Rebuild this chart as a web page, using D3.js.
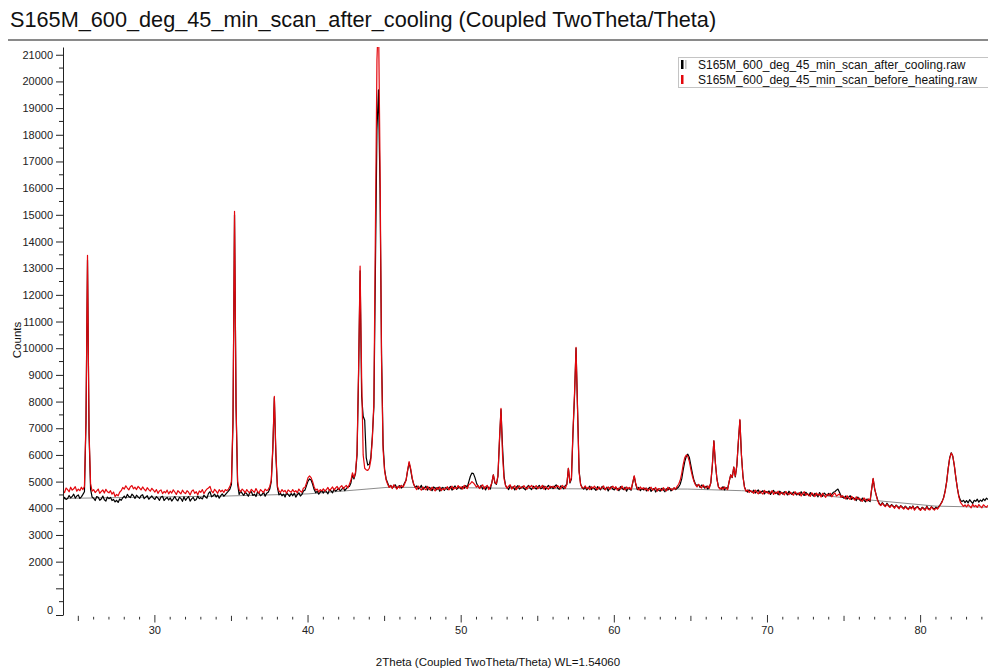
<!DOCTYPE html>
<html><head><meta charset="utf-8">
<script src="https://cdn.jsdelivr.net/npm/d3@7"></script>
<style>
html,body{margin:0;padding:0;background:#fff;}
svg{display:block;font-family:"Liberation Sans",Arial,Helvetica,sans-serif;}
</style></head><body>
<svg id="chart" width="988" height="671"></svg>
<script>
// Scan grid (start angle and step, degrees 2θ)
const scanStart = 24.0;
const scanStep = 0.1;

const chartTitle = "S165M_600_deg_45_min_scan_after_cooling (Coupled TwoTheta/Theta)";
const seriesNames = ["S165M_600_deg_45_min_scan_after_cooling.raw", "S165M_600_deg_45_min_scan_before_heating.raw"];
const xTitle = "2Theta (Coupled TwoTheta/Theta) WL=1.54060";
const yTitle = "Counts";

// Counts, one row per degree (24.0 … 84.4)
const afterCooling = [
 4280,4410,4330,4370,4480,4390,4440,4530,4380,4460, // 24
 4500,4370,4430,4520,4620,7200,13300,6800,4720,4420, // 25
 4380,4290,4440,4410,4300,4350,4460,4320,4270,4420, // 26
 4360,4410,4290,4330,4240,4300,4220,4350,4300,4390, // 27
 4460,4380,4520,4440,4400,4530,4470,4370,4490,4430, // 28
 4370,4480,4510,4360,4420,4470,4340,4400,4460,4380, // 29
 4330,4440,4380,4300,4420,4450,4290,4360,4410,4310, // 30
 4390,4270,4350,4440,4330,4280,4410,4370,4260,4430, // 31
 4300,4380,4440,4270,4350,4410,4290,4330,4460,4360, // 32
 4400,4350,4490,4420,4380,4560,4620,4430,4470,4530, // 33
 4420,4500,4380,4470,4540,4450,4510,4580,4640,4720, // 34
 4900,7200,15000,7800,4920,4520,4640,4560,4480,4600, // 35
 4540,4450,4590,4620,4480,4530,4440,4610,4560,4470, // 36
 4520,4600,4450,4560,4600,4720,5000,6200,8150,6000, // 37
 4780,4500,4560,4470,4530,4420,4580,4510,4450,4550, // 38
 4470,4560,4420,4510,4580,4460,4520,4650,4680,4850, // 39
 5020,5100,5060,4900,4700,4580,4640,4530,4610,4660, // 40
 4570,4680,4620,4540,4700,4650,4580,4720,4640,4690, // 41
 4750,4650,4710,4780,4660,4740,4800,4820,4950,5250, // 42
 5100,5300,6000,9000,12900,8200,7450,7300,5900,5620, // 43
 5650,5900,6700,7800,13000,18200,19680,16000,9800,6400, // 44
 5450,5100,4950,4800,4860,4760,4830,4880,4740,4810, // 45
 4850,4760,4820,4950,5050,5400,5700,5450,5100,4900, // 46
 4790,4840,4720,4770,4860,4700,4760,4830,4680,4790, // 47
 4730,4660,4800,4750,4690,4790,4640,4720,4780,4670, // 48
 4780,4700,4740,4820,4680,4770,4840,4710,4760,4800, // 49
 4720,4810,4750,4850,4800,5000,5200,5320,5300,5150, // 50
 4950,4820,4760,4860,4720,4800,4690,4830,4770,4720, // 51
 4950,5250,4950,4900,5200,6500,7700,6310,5200,4850, // 52
 4780,4700,4850,4760,4810,4690,4790,4850,4720,4770, // 53
 4820,4740,4690,4800,4860,4750,4700,4830,4780,4720, // 54
 4800,4860,4730,4770,4840,4700,4790,4860,4750,4810, // 55
 4740,4820,4880,4760,4710,4840,4790,4730,4850,4900, // 56
 5500,4950,5100,6800,8200,10000,7700,5400,4900,4780, // 57
 4720,4800,4690,4760,4830,4700,4780,4740,4670,4810, // 58
 4760,4690,4820,4740,4700,4790,4650,4760,4810,4720, // 59
 4690,4780,4730,4660,4810,4750,4700,4790,4640,4760, // 60
 4720,4680,4950,5200,4900,4700,4780,4660,4740,4690, // 61
 4760,4650,4720,4780,4630,4700,4740,4610,4710,4680, // 62
 4640,4750,4690,4620,4730,4680,4770,4650,4710,4760, // 63
 4700,4750,4800,4900,5100,5450,5750,5950,6030,5900, // 64
 5600,5300,5050,4900,4850,4890,4780,4870,4820,4760, // 65
 4830,4720,4790,4950,5600,6530,5690,5100,4800,4740, // 66
 4720,4810,4690,4770,4740,5000,5250,5150,5540,5180, // 67
 5600,6500,7300,6000,5200,4800,4660,4610,4690,4640, // 68
 4600,4680,4570,4640,4690,4560,4620,4660,4540,4630, // 69
 4580,4650,4520,4610,4670,4550,4600,4510,4640,4580, // 70
 4530,4620,4590,4500,4640,4560,4520,4610,4570,4500, // 71
 4570,4490,4620,4530,4480,4600,4540,4470,4590,4520, // 72
 4460,4560,4510,4430,4590,4500,4450,4570,4520,4480, // 73
 4560,4470,4530,4600,4620,4680,4720,4600,4470,4420, // 74
 4380,4460,4340,4420,4470,4330,4400,4360,4290,4420, // 75
 4330,4270,4380,4300,4240,4350,4290,4250,4700,5100, // 76
 4720,4500,4300,4180,4120,4210,4140,4080,4190,4110, // 77
 4060,4140,4090,4030,4120,4070,4010,4100,4050,3990, // 78
 4080,4020,3970,4060,4000,4090,3960,4030,4070,3990, // 79
 3950,4040,4000,3940,4080,3990,3960,4060,4010,3970, // 80
 4040,3990,4070,4150,4250,4400,4650,5000,5500,5900, // 81
 6080,5950,5600,5150,4750,4450,4300,4250,4300,4210, // 82
 4290,4200,4320,4250,4180,4300,4260,4340,4230,4310, // 83
 4260,4350,4290,4380,4330                           // 84
];

const beforeHeating = [
 4650,4590,4760,4700,4620,4790,4680,4730,4810,4640, // 24
 4720,4660,4790,4700,4820,7300,13480,6900,4920,4640, // 25
 4700,4590,4650,4720,4560,4630,4690,4570,4710,4620, // 26
 4580,4660,4530,4610,4440,4520,4470,4600,4660,4780, // 27
 4720,4840,4760,4690,4810,4850,4730,4790,4700,4820, // 28
 4760,4690,4800,4720,4650,4770,4700,4640,4750,4680, // 29
 4610,4700,4560,4650,4690,4550,4630,4580,4680,4540, // 30
 4640,4570,4690,4610,4520,4660,4600,4540,4680,4590, // 31
 4550,4660,4600,4500,4640,4690,4560,4620,4510,4650, // 32
 4600,4700,4550,4650,4720,4760,4820,4640,4580,4710, // 33
 4640,4560,4700,4620,4680,4590,4700,4660,4720,4820, // 34
 5000,7400,15130,7900,5020,4700,4620,4720,4660,4580, // 35
 4700,4620,4580,4710,4650,4600,4740,4630,4570,4700, // 36
 4640,4590,4720,4660,4700,4820,5050,6300,8200,6100, // 37
 4830,4650,4590,4700,4620,4670,4560,4690,4640,4600, // 38
 4700,4610,4660,4580,4720,4640,4600,4760,4780,4950, // 39
 5150,5210,5150,5000,4800,4680,4720,4610,4700,4650, // 40
 4730,4640,4700,4780,4660,4730,4800,4690,4760,4820, // 41
 4700,4790,4850,4730,4800,4860,4760,4900,5050,5330, // 42
 5150,5350,6100,9200,13080,8900,6000,5500,5440,5420, // 43
 5500,5800,6600,8000,14500,20800,22500,17000,9500,6200, // 44
 5400,5060,4900,4780,4850,4740,4880,4800,4720,4830, // 45
 4760,4860,4790,4900,5050,5420,5750,5500,5150,4900, // 46
 4780,4700,4830,4750,4680,4800,4740,4690,4820,4720, // 47
 4680,4790,4720,4650,4770,4710,4800,4660,4740,4700, // 48
 4740,4810,4690,4760,4830,4710,4780,4740,4850,4760, // 49
 4800,4720,4860,4780,4740,4890,4920,5000,4950,4880, // 50
 4790,4860,4740,4820,4880,4730,4810,4860,4700,4820, // 51
 4950,5250,4980,4920,5220,6600,7750,6000,5100,4850, // 52
 4740,4830,4880,4720,4790,4850,4700,4780,4840,4760, // 53
 4780,4850,4760,4720,4830,4790,4860,4740,4800,4850, // 54
 4730,4800,4770,4860,4720,4820,4760,4710,4830,4780, // 55
 4830,4760,4810,4850,4780,4730,4860,4800,4750,4900, // 56
 5500,4980,5150,6900,8300,10030,7650,5350,4880,4760, // 57
 4760,4840,4730,4790,4700,4810,4750,4830,4760,4700, // 58
 4800,4730,4770,4840,4690,4760,4800,4710,4780,4830, // 59
 4740,4810,4680,4760,4720,4830,4740,4690,4800,4730, // 60
 4780,4700,4960,5220,4920,4750,4690,4800,4720,4770, // 61
 4690,4760,4650,4730,4790,4680,4720,4780,4640,4740, // 62
 4720,4660,4770,4700,4650,4790,4710,4740,4680,4770, // 63
 4720,4820,4900,5050,5300,5650,5900,6000,5950,5750, // 64
 5450,5200,5000,4880,4800,4900,4830,4760,4880,4800, // 65
 4760,4840,4750,4960,5620,6530,5700,5080,4790,4720, // 66
 4780,4710,4800,4740,4700,5020,5250,5160,5540,5200, // 67
 5620,6520,7330,6000,5180,4780,4640,4690,4590,4660, // 68
 4620,4560,4680,4600,4540,4650,4590,4530,4670,4580, // 69
 4620,4540,4590,4660,4520,4610,4560,4640,4500,4600, // 70
 4570,4500,4630,4560,4510,4600,4540,4490,4620,4550, // 71
 4510,4590,4460,4560,4620,4480,4550,4500,4450,4580, // 72
 4520,4440,4570,4490,4530,4420,4560,4480,4410,4530, // 73
 4480,4560,4430,4520,4570,4460,4500,4540,4410,4470, // 74
 4420,4350,4470,4380,4330,4450,4370,4310,4430,4340, // 75
 4380,4300,4260,4390,4320,4270,4350,4300,4720,5120, // 76
 4730,4480,4280,4150,4100,4190,4110,4060,4160,4080, // 77
 4030,4120,4060,4000,4110,4040,3980,4090,4020,3970, // 78
 4060,3990,3950,4040,3980,4070,3930,4010,4050,3960, // 79
 3920,4020,3970,3930,4060,3960,3940,4050,3980,3930, // 80
 4010,3970,4050,4140,4240,4380,4620,4980,5480,5880, // 81
 6070,5960,5620,5150,4760,4420,4220,4150,4070,4130, // 82
 4050,4140,4080,4020,4150,4060,4110,4030,4140,4070, // 83
 4020,4130,4080,4040,4110                           // 84
];

// Fitted background (node points)
const backgroundTheta  = [24, 34.7, 40, 43, 45.3, 50, 57, 64.8, 68.3, 72, 76.7, 81, 84.4];
const backgroundCounts = [4370, 4460, 4540, 4680, 4790, 4770, 4730, 4720, 4660, 4560, 4310, 4080, 4040];

// Axis ticks
const yMajorTicks = [0,1000,2000,3000,4000,5000,6000,7000,8000,9000,10000,11000,12000,13000,14000,15000,16000,17000,18000,19000,20000,21000];
const xLabelTicks = [30, 40, 50, 60, 70, 80];

const svg = d3.select("#chart");
const W = 988, H = 671;
const plot = {left: 63, right: 988, top: 47, bottom: 615};

const x = d3.scaleLinear().domain([24, 84.4]).range([plot.left, plot.right]);
const y = d3.scaleLinear().domain([0, 21290]).range([plot.bottom, plot.top]);

// Title and rule
svg.append("text")
  .attr("x", 10).attr("y", 27)
  .attr("font-size", 21.7).attr("fill", "#111")
  .text(chartTitle);
svg.append("line")
  .attr("x1", 8).attr("x2", W).attr("y1", 40).attr("y2", 40)
  .attr("stroke", "#8a8a8a").attr("stroke-width", 2);

// Clip region for the traces
svg.append("defs").append("clipPath").attr("id", "plotClip")
  .append("rect")
  .attr("x", plot.left).attr("y", plot.top)
  .attr("width", plot.right - plot.left).attr("height", plot.bottom - plot.top);

const toPoints = arr => arr.map((c, i) => [scanStart + i * scanStep, c]);
const line = d3.line().x(d => x(d[0])).y(d => y(d[1]));

const traces = svg.append("g").attr("clip-path", "url(#plotClip)");

traces.append("path")
  .datum(backgroundTheta.map((t, i) => [t, backgroundCounts[i]]))
  .attr("d", line)
  .attr("fill", "none").attr("stroke", "#6e6e6e").attr("stroke-width", 0.8);

traces.append("path")
  .datum(toPoints(afterCooling))
  .attr("d", line)
  .attr("fill", "none").attr("stroke", "#000").attr("stroke-width", 1.2)
  .attr("stroke-linejoin", "round");

traces.append("path")
  .datum(toPoints(beforeHeating))
  .attr("d", line)
  .attr("fill", "none").attr("stroke", "#e3070d").attr("stroke-width", 1.2)
  .attr("stroke-linejoin", "round");

// Y axis
const yAxisG = svg.append("g").attr("transform", `translate(${plot.left},0)`);
yAxisG.call(d3.axisLeft(y).tickValues(yMajorTicks).tickSize(7).tickSizeOuter(0)
  .tickFormat(d => d === 1000 ? "" : d));
yAxisG.call(g => g.select(".domain").attr("stroke", "#222"));
yAxisG.selectAll(".tick line").attr("stroke", "#222");
yAxisG.selectAll(".tick text")
  .attr("font-size", 11).attr("fill", "#222")
  .attr("font-family", "Liberation Sans, Arial, sans-serif")
  .attr("dy", d => d === 0 ? "-0.15em" : "0.32em");
const yMinor = d3.range(500, 21001, 1000);
yAxisG.selectAll(".minor").data(yMinor).join("line")
  .attr("class", "minor")
  .attr("x1", -4).attr("x2", 0)
  .attr("y1", d => y(d)).attr("y2", d => y(d))
  .attr("stroke", "#222");

// X axis: tick marks only (no axis line)
const xAxisG = svg.append("g");
const xTicks = d3.range(25, 85, 1);
xAxisG.selectAll("line").data(xTicks).join("line")
  .attr("x1", d => x(d)).attr("x2", d => x(d))
  .attr("y1", d => d % 10 === 0 ? plot.bottom : d % 5 === 0 ? plot.bottom + 0.8 : plot.bottom + 1.8)
  .attr("y2", d => d % 10 === 0 ? plot.bottom + 7.5 : d % 5 === 0 ? plot.bottom + 6 : plot.bottom + 4.5)
  .attr("stroke", "#333").attr("stroke-width", 1);
xAxisG.selectAll("text").data(xLabelTicks).join("text")
  .attr("x", d => x(d)).attr("y", 634)
  .attr("text-anchor", "middle").attr("font-size", 11).attr("fill", "#222")
  .text(d => d);

// Axis titles
svg.append("text")
  .attr("transform", "translate(21,340) rotate(-90)")
  .attr("text-anchor", "middle").attr("font-size", 11.5).attr("fill", "#111")
  .text(yTitle);
svg.append("text")
  .attr("x", 498).attr("y", 666)
  .attr("text-anchor", "middle").attr("font-size", 11.5).attr("fill", "#111")
  .text(xTitle);

// Legend
const legend = svg.append("g");
legend.append("rect")
  .attr("x", 678.5).attr("y", 57.5).attr("width", 312).attr("height", 30)
  .attr("fill", "#fff").attr("stroke", "#c4c4c4");
const legendColors = ["#000", "#e3070d"];
seriesNames.forEach((name, i) => {
  const cy = 64.5 + i * 15;
  legend.append("rect").attr("x", 681).attr("y", cy - 4.5).attr("width", 2.5).attr("height", 9)
    .attr("fill", legendColors[i]);
  if (i === 0) {
    legend.append("rect").attr("x", 685.5).attr("y", cy - 4.5).attr("width", 0.8).attr("height", 9)
      .attr("fill", "#888");
  }
  legend.append("text").attr("x", 698).attr("y", cy + 4)
    .attr("font-size", 12).attr("fill", "#111").text(name);
});
</script>
</body></html>
